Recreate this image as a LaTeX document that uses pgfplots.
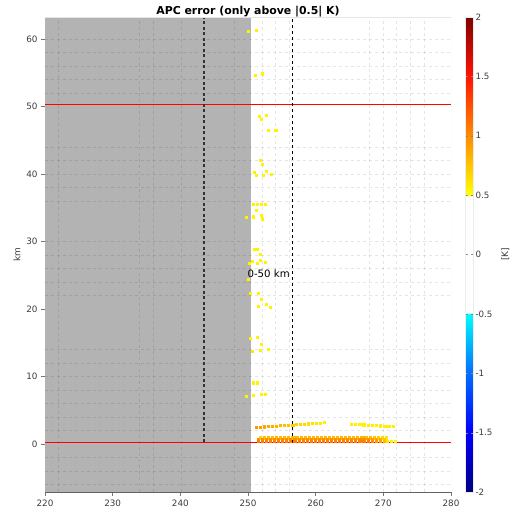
\documentclass[border=0pt]{standalone}
\usepackage{fontspec}
\setmainfont{DejaVu Sans}
\usepackage{pgfplots}
\pgfplotsset{compat=1.18}
\definecolor{tickgray}{RGB}{60,60,60}
\definecolor{shade}{RGB}{179,179,179}
\pgfplotsset{colormap={apc}{rgb255(0pt)=(0,0,128) rgb255(50pt)=(0,0,255) rgb255(100pt)=(0,110,255) rgb255(150pt)=(0,255,255) rgb255(151pt)=(255,255,255) rgb255(249pt)=(255,255,255) rgb255(250pt)=(255,255,0) rgb255(300pt)=(255,140,0) rgb255(350pt)=(255,20,0) rgb255(400pt)=(128,0,0)}}
\begin{document}
\begin{tikzpicture}
\begin{axis}[
  at={(0,0)}, anchor=south west,
  scale only axis, width=406bp, height=475bp,
  xmin=220, xmax=280, ymin=-7.1, ymax=63.3,
  xtick={220,230,...,280}, ytick={0,10,...,60},
  axis lines*=left,
  axis line style={draw=tickgray!80, line width=0.6pt},
  tick align=outside, major tick length=4bp,
  tick style={draw=tickgray!70, line width=0.5pt},
  /pgf/number format/assume math mode=true,
  ticklabel style={font=\fontsize{8.8bp}{10bp}\selectfont, text=tickgray},
  ylabel={km},
  ylabel style={font=\fontsize{9bp}{10bp}\selectfont, text=tickgray, at={(axis description cs:-0.069,0.5)}, anchor=center},
  title={APC error (only above |0.5| K)},
  title style={font=\bfseries\fontsize{10.9bp}{12bp}\selectfont, at={(axis description cs:0.5,1)}, anchor=base, yshift=-3bp},
  colormap name=apc,
  point meta min=-2, point meta max=2,
  colorbar,
  colorbar style={
    at={(parent axis.north east)}, anchor=north west, xshift=6bp,
    scale only axis, width=7.5bp, height=475bp,
    ytick={-2,-1.5,...,2},
    axis line style={draw=gray!15, line width=0.5pt},
    major tick length=2bp,
    tick style={draw=tickgray!60},
    /pgf/number format/assume math mode=true,
    yticklabel style={font=\fontsize{8.7bp}{10bp}\selectfont, text=tickgray, xshift=-1bp},
    ylabel={[K]},
    ylabel style={font=\fontsize{9bp}{10bp}\selectfont, text=tickgray, yshift=-2bp},
  },
  clip=true,
]
% shaded region
\addplot[fill=shade, draw=none, forget plot] coordinates {(220,-7.1) (250.5,-7.1) (250.5,63.3) (220,63.3)} -- cycle;
% grid (vertical)
\addplot[black, opacity=0.1, line width=0.8bp, dash pattern=on 3bp off 3bp, unbounded coords=jump, forget plot] coordinates {
(222,-7.1) (222,63.3) (nan,nan)
(234,-7.1) (234,63.3) (nan,nan)
(236,-7.1) (236,63.3) (nan,nan)
(240.2,-7.1) (240.2,63.3) (nan,nan)
(248,-7.1) (248,63.3) (nan,nan)
(252.1,-7.1) (252.1,63.3) (nan,nan)
(254.1,-7.1) (254.1,63.3) (nan,nan)
(256.1,-7.1) (256.1,63.3) (nan,nan)
(268,-7.1) (268,63.3) (nan,nan)
(270,-7.1) (270,63.3) (nan,nan)
(272,-7.1) (272,63.3) (nan,nan)
(274,-7.1) (274,63.3) (nan,nan)
(276,-7.1) (276,63.3)
};
% grid (horizontal)
\addplot[black, opacity=0.1, line width=0.8bp, dash pattern=on 3bp off 3bp, unbounded coords=jump, forget plot] coordinates {
(220,-6) (280,-6) (nan,nan)
(220,-4) (280,-4) (nan,nan)
(220,-2) (280,-2) (nan,nan)
(220,2) (280,2) (nan,nan)
(220,4) (280,4) (nan,nan)
(220,6) (280,6) (nan,nan)
(220,8) (280,8) (nan,nan)
(220,10) (280,10) (nan,nan)
(220,12) (280,12) (nan,nan)
(220,14) (280,14) (nan,nan)
(220,22) (280,22) (nan,nan)
(220,24) (280,24) (nan,nan)
(220,26) (280,26) (nan,nan)
(220,28) (280,28) (nan,nan)
(220,30) (280,30) (nan,nan)
(220,36) (280,36) (nan,nan)
(220,38) (280,38) (nan,nan)
(220,40) (280,40) (nan,nan)
(220,42) (280,42) (nan,nan)
(220,44) (280,44) (nan,nan)
(220,52) (280,52) (nan,nan)
(220,54) (280,54) (nan,nan)
(220,56) (280,56) (nan,nan)
(220,58) (280,58) (nan,nan)
(220,60) (280,60)
};
% red lines
\addplot[red, line width=0.9bp, forget plot] coordinates {(220,50.3) (280,50.3)};
\addplot[red, line width=0.9bp, forget plot] coordinates {(220,0.3) (280,0.3)};
% scatter points
\addplot[scatter, only marks, mark=square*, mark size=1.05bp, point meta=explicit,
  scatter/use mapped color={draw=mapped color, fill=mapped color}, forget plot] coordinates {
(250.05,61.2) [0.55] (251.2,61.3) [0.55]
(251.0,54.7) [0.55] (252.1,54.9) [0.55]
(251.6,48.6) [0.55] (252.7,48.7) [0.55] (251.9,48.2) [0.55] (253.0,46.5) [0.55] (254.1,46.5) [0.55]
(251.8,42.1) [0.55] (252.1,41.5) [0.55] (250.9,40.3) [0.55] (251.2,39.9) [0.55] (252.7,40.5) [0.55] (252.3,39.9) [0.55] (253.4,40.0) [0.55]
(250.8,35.5) [0.55] (251.3,35.5) [0.55] (251.9,35.6) [0.55] (252.5,35.6) [0.55] (251.2,34.7) [0.55] (249.7,33.6) [0.55] (250.8,33.7) [0.55] (251.9,33.9) [0.55] (252.1,33.4) [0.55]
(250.9,28.9) [0.55] (251.4,28.9) [0.55] (251.8,28.1) [0.55] (250.6,27.1) [0.55] (251.8,27.3) [0.55] (250.2,26.8) [0.55] (251.3,26.8) [0.55] (252.5,26.9) [0.55] (250.0,24.5) [0.55]
(250.3,22.3) [0.55] (251.5,22.4) [0.55] (251.9,21.5) [0.55] (251.5,20.5) [0.55] (252.7,20.7) [0.55] (253.3,20.3) [0.55]
(250.3,15.7) [0.55] (251.4,15.8) [0.55] (251.9,14.8) [0.55] (250.6,13.8) [0.6] (251.8,13.9) [0.55] (253.0,14.1) [0.55]
(250.8,9.1) [0.55] (251.4,9.1) [0.55] (249.7,7.1) [0.55] (250.8,7.2) [0.55] (252.0,7.4) [0.55] (252.6,7.4) [0.55]
};
% row near 2.5-3.2 km
\addplot[scatter, only marks, mark=square*, mark size=1.05bp, point meta=explicit,
  scatter/use mapped color={draw=mapped color, fill=mapped color}, forget plot] coordinates {
(251.2,2.50) [0.95] (251.8,2.54) [0.93] (252.4,2.58) [0.9] (253.0,2.62) [0.88] (253.6,2.66) [0.85] (254.2,2.70) [0.82]
(254.8,2.74) [0.8] (255.4,2.78) [0.77] (256.0,2.82) [0.75] (256.6,2.86) [0.72] (257.1,2.90) [0.7] (257.7,2.95) [0.68]
(258.3,2.99) [0.66] (258.9,3.03) [0.64] (259.5,3.07) [0.62] (260.1,3.11) [0.6] (260.7,3.15) [0.58] (261.3,3.20) [0.57]
(265.3,3.00) [0.57] (265.9,2.96) [0.57] (266.5,2.92) [0.57] (267.1,2.88) [0.57] (267.7,2.84) [0.57] (268.4,2.80) [0.57]
(269.0,2.76) [0.57] (269.6,2.72) [0.57] (270.2,2.68) [0.57] (270.8,2.64) [0.57] (271.4,2.60) [0.57]
};
% dense cluster near the ground
\addplot[scatter, only marks, mark=square*, mark size=1.05bp, point meta=explicit,
  scatter/use mapped color={draw=mapped color, fill=mapped color}, forget plot] coordinates {
(251.8,0.95) [0.7] (252.4,0.95) [0.75] (253.0,0.95) [0.78] (253.6,0.95) [0.8] (254.2,0.95) [0.8] (254.8,0.95) [0.8]
(255.4,0.95) [0.8] (256.0,0.95) [0.8] (256.6,0.95) [0.8] (257.2,0.95) [0.8] (257.8,0.95) [0.8] (258.4,0.95) [0.8]
(259.0,0.95) [0.8] (259.6,0.95) [0.8] (260.2,0.95) [0.8] (260.8,0.95) [0.8] (261.4,0.95) [0.8] (262.0,0.95) [0.8]
(262.6,0.95) [0.8] (263.2,0.95) [0.8] (263.8,0.95) [0.8] (264.4,0.95) [0.8] (265.0,0.95) [0.8] (265.6,0.95) [0.8]
(266.2,0.95) [0.8] (266.8,0.95) [0.8] (267.4,0.95) [0.8] (268.0,0.95) [0.78] (268.6,0.95) [0.75] (269.2,0.95) [0.7]
(269.8,0.95) [0.65] (270.4,0.95) [0.6]
(251.5,0.7) [1.0] (252.1,0.7) [1.0] (252.7,0.7) [1.0] (253.3,0.7) [1.0] (253.9,0.7) [1.0] (254.5,0.7) [1.0]
(255.1,0.7) [1.0] (255.7,0.7) [1.0] (256.3,0.7) [1.0] (256.9,0.7) [1.0] (257.5,0.7) [1.0] (258.1,0.7) [1.0]
(258.7,0.7) [1.0] (259.3,0.7) [1.0] (259.9,0.7) [1.0] (260.5,0.7) [1.0] (261.1,0.7) [1.0] (261.7,0.7) [1.0]
(262.3,0.7) [1.0] (262.9,0.7) [1.0] (263.5,0.7) [1.0] (264.1,0.7) [1.0] (264.7,0.7) [1.0] (265.3,0.7) [1.0]
(265.9,0.7) [1.0] (266.5,0.7) [1.0] (267.1,0.7) [1.0] (267.7,0.7) [1.0] (268.3,0.7) [0.95] (268.9,0.7) [0.9]
(269.5,0.7) [0.85] (270.1,0.7) [0.75]
(251.5,0.42) [1.05] (252.1,0.42) [1.05] (252.7,0.42) [1.05] (253.3,0.42) [1.05] (253.9,0.42) [1.05] (254.5,0.42) [1.05]
(255.1,0.42) [1.05] (255.7,0.42) [1.05] (256.3,0.42) [1.05] (256.9,0.42) [1.05] (257.5,0.42) [1.05] (258.1,0.42) [1.05]
(258.7,0.42) [1.05] (259.3,0.42) [1.05] (259.9,0.42) [1.05] (260.5,0.42) [1.05] (261.1,0.42) [1.05] (261.7,0.42) [1.05]
(262.3,0.42) [1.05] (262.9,0.42) [1.05] (263.5,0.42) [1.05] (264.1,0.42) [1.05] (264.7,0.42) [1.05] (265.3,0.42) [1.05]
(265.9,0.42) [1.05] (266.5,0.42) [1.05] (267.1,0.42) [1.05] (267.7,0.42) [1.05] (268.3,0.42) [1.0] (268.9,0.42) [0.95]
(269.5,0.42) [0.9] (270.1,0.42) [0.8]
(270.6,0.45) [0.6] (271.2,0.42) [0.57] (271.8,0.4) [0.55]
};
% dashed vertical lines
\addplot[black!80, line width=1.2bp, dash pattern=on 3bp off 2.5bp, forget plot] coordinates {(243.5,0.3) (243.5,63.3)};
\addplot[black, line width=0.9bp, dash pattern=on 3bp off 3bp, forget plot] coordinates {(256.5,0.3) (256.5,63.3)};
\node[font=\fontsize{10.2bp}{12bp}\selectfont, anchor=center] at (axis cs:253.05,25.3) {0-50 km};
\draw[gray!20, line width=0.6pt] (rel axis cs:0,1) -- (rel axis cs:1,1) -- (rel axis cs:1,0);
\end{axis}
\pgfresetboundingbox
\path (-45bp,-20bp) rectangle (466bp,492bp);
\end{tikzpicture}
\end{document}
